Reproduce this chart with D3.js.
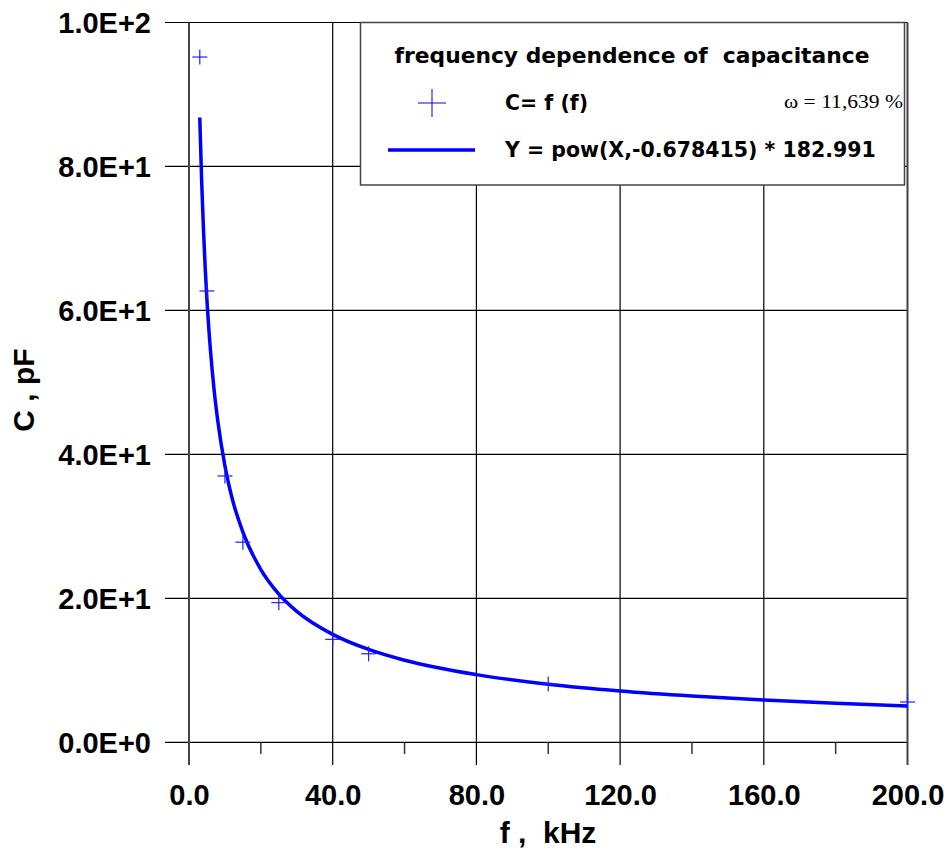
<!DOCTYPE html>
<html>
<head>
<meta charset="utf-8">
<script src="https://cdn.jsdelivr.net/npm/d3@7/dist/d3.min.js"></script>
<style>
  html, body { margin: 0; padding: 0; background: #fff; }
  svg { display: block; }
</style>
</head>
<body>
<div id="chart"></div>
<script>
"use strict";

// measured points C = f(f)
var freqKHz = [3, 5, 10, 15, 25, 40, 50, 100, 200];
var capPF = [95.2, 62.7, 37.0, 27.8, 19.4, 14.3, 12.3, 8.1, 5.6];

// fitted curve
var fitX = [3, 3.5, 4, 4.5, 5, 6, 7, 8, 10, 12, 15, 20, 25, 30, 40, 50, 60, 80, 100, 120, 140, 160, 180, 200];
var fitY = [86.8, 78.3, 71.6, 66.0, 61.4, 54.3, 48.9, 44.7, 38.4, 33.9, 29.2, 24.0, 20.6, 18.2, 15.0, 12.9, 11.4, 9.4, 8.06, 7.12, 6.42, 5.87, 5.41, 5.03];

var xTicks = [0, 40, 80, 120, 160, 200];
var xTickLabels = ["0.0", "40.0", "80.0", "120.0", "160.0", "200.0"];
var xMinorTicks = [20, 60, 100, 140, 180];
var yTicks = [0, 20, 40, 60, 80, 100];
var yTickLabels = ["0.0E+0", "2.0E+1", "4.0E+1", "6.0E+1", "8.0E+1", "1.0E+2"];

var legendTitle = "frequency dependence of  capacitance";
var legendPoints = "C= f (f)";
var legendFit = "Y = pow(X,-0.678415) * 182.991";
var fitError = "\u03c9 = 11,639 %";

var width = 948, height = 851;
var plotLeft = 189, plotRight = 907.5, plotTop = 22.5, plotBottom = 742.3;

var x = d3.scaleLinear().domain([0, 200]).range([plotLeft, plotRight]);
var y = d3.scaleLinear().domain([0, 100]).range([plotBottom, plotTop]);

var svg = d3.select("#chart").append("svg")
  .attr("width", width)
  .attr("height", height);

var sans = "'Liberation Sans', Arial, sans-serif";

// horizontal grid lines (extend left past the axis)
svg.append("g").selectAll("line").data(yTicks).enter().append("line")
  .attr("x1", 165).attr("x2", plotRight)
  .attr("y1", function (d) { return y(d); })
  .attr("y2", function (d) { return y(d); })
  .attr("stroke", "#000").attr("stroke-width", 1.2);

// vertical grid lines (extend down past the axis)
svg.append("g").selectAll("line").data(xTicks).enter().append("line")
  .attr("x1", function (d) { return x(d); })
  .attr("x2", function (d) { return x(d); })
  .attr("y1", plotTop).attr("y2", 765)
  .attr("stroke", function (d, i) { return (i === 0 || i === xTicks.length - 1) ? "#444" : "#000"; })
  .attr("stroke-width", function (d, i) { return (i === 0 || i === xTicks.length - 1) ? 2 : 1.2; });

// minor ticks on the x axis
svg.append("g").selectAll("line").data(xMinorTicks).enter().append("line")
  .attr("x1", function (d) { return x(d); })
  .attr("x2", function (d) { return x(d); })
  .attr("y1", plotBottom).attr("y2", 754)
  .attr("stroke", "#333").attr("stroke-width", 1.5);

// x axis labels
var xAxis = svg.append("g")
  .attr("transform", "translate(0," + plotBottom + ")")
  .call(d3.axisBottom(x).tickValues(xTicks).tickSize(0).tickPadding(0)
    .tickFormat(function (d, i) { return xTickLabels[i]; }));
xAxis.select(".domain").remove();
xAxis.selectAll("text")
  .attr("dy", null).attr("y", 63)
  .style("font-family", sans).style("font-weight", "bold")
  .style("font-size", "29px").attr("fill", "#000");

// y axis labels
var yAxis = svg.append("g")
  .attr("transform", "translate(" + plotLeft + ",0)")
  .call(d3.axisLeft(y).tickValues(yTicks).tickSize(0).tickPadding(0)
    .tickFormat(function (d, i) { return yTickLabels[i]; }));
yAxis.select(".domain").remove();
yAxis.selectAll("text")
  .attr("dy", null).attr("x", -38).attr("y", 10)
  .style("font-family", sans).style("font-weight", "bold")
  .style("font-size", "29px").attr("fill", "#000");

// axis titles
svg.append("text")
  .attr("x", 548).attr("y", 843)
  .attr("text-anchor", "middle")
  .style("font-family", sans).style("font-weight", "bold").style("font-size", "30px")
  .style("white-space", "pre")
  .text("f ,  kHz");

svg.append("text")
  .attr("transform", "translate(34,390) rotate(-90)")
  .attr("text-anchor", "middle")
  .style("font-family", sans).style("font-weight", "bold").style("font-size", "30px")
  .text("C , pF");

// fitted curve
var line = d3.line()
  .x(function (d) { return x(d[0]); })
  .y(function (d) { return y(d[1]); })
  .curve(d3.curveMonotoneX);

svg.append("path")
  .datum(d3.zip(fitX, fitY))
  .attr("d", line)
  .attr("fill", "none")
  .attr("stroke", "#0000ff")
  .attr("stroke-width", 3.5);

// data crosses
var cross = 7.5;
var pts = svg.append("g").selectAll("g").data(d3.zip(freqKHz, capPF)).enter().append("g")
  .attr("transform", function (d) { return "translate(" + x(d[0]) + "," + y(d[1]) + ")"; });
pts.append("line").attr("x1", -cross).attr("x2", cross).attr("y1", 0).attr("y2", 0)
  .attr("stroke", "#2020ff").attr("stroke-width", 1.2);
pts.append("line").attr("x1", 0).attr("x2", 0).attr("y1", -cross).attr("y2", cross)
  .attr("stroke", "#2020ff").attr("stroke-width", 1.2);

// legend
var lg = svg.append("g");
lg.append("rect")
  .attr("x", 360.5).attr("y", plotTop).attr("width", 544).attr("height", 162.5)
  .attr("fill", "#fff").attr("stroke", "#444").attr("stroke-width", 1.5);

var legendFont = "'DejaVu Sans', Verdana, sans-serif";
lg.append("text")
  .attr("x", 632).attr("y", 63)
  .attr("text-anchor", "middle")
  .style("font-family", legendFont).style("font-weight", "bold").style("font-size", "21.8px")
  .style("white-space", "pre")
  .text(legendTitle);

lg.append("line").attr("x1", 418).attr("x2", 446).attr("y1", 103).attr("y2", 103)
  .attr("stroke", "#0000ff").attr("stroke-width", 1);
lg.append("line").attr("x1", 432).attr("x2", 432).attr("y1", 89).attr("y2", 117)
  .attr("stroke", "#0000ff").attr("stroke-width", 1);

lg.append("text")
  .attr("x", 505).attr("y", 110)
  .style("font-family", legendFont).style("font-weight", "bold").style("font-size", "20.5px")
  .text(legendPoints);

lg.append("line").attr("x1", 388).attr("x2", 475).attr("y1", 150).attr("y2", 150)
  .attr("stroke", "#0000ff").attr("stroke-width", 3.5);

lg.append("text")
  .attr("x", 505).attr("y", 157)
  .style("font-family", legendFont).style("font-weight", "bold").style("font-size", "20.5px")
  .text(legendFit);

lg.append("text")
  .attr("x", 903).attr("y", 108)
  .attr("text-anchor", "end")
  .style("font-family", "'Liberation Serif', 'Times New Roman', serif")
  .style("font-size", "18px")
  .attr("textLength", 119).attr("lengthAdjust", "spacingAndGlyphs")
  .text(fitError);
</script>
</body>
</html>
